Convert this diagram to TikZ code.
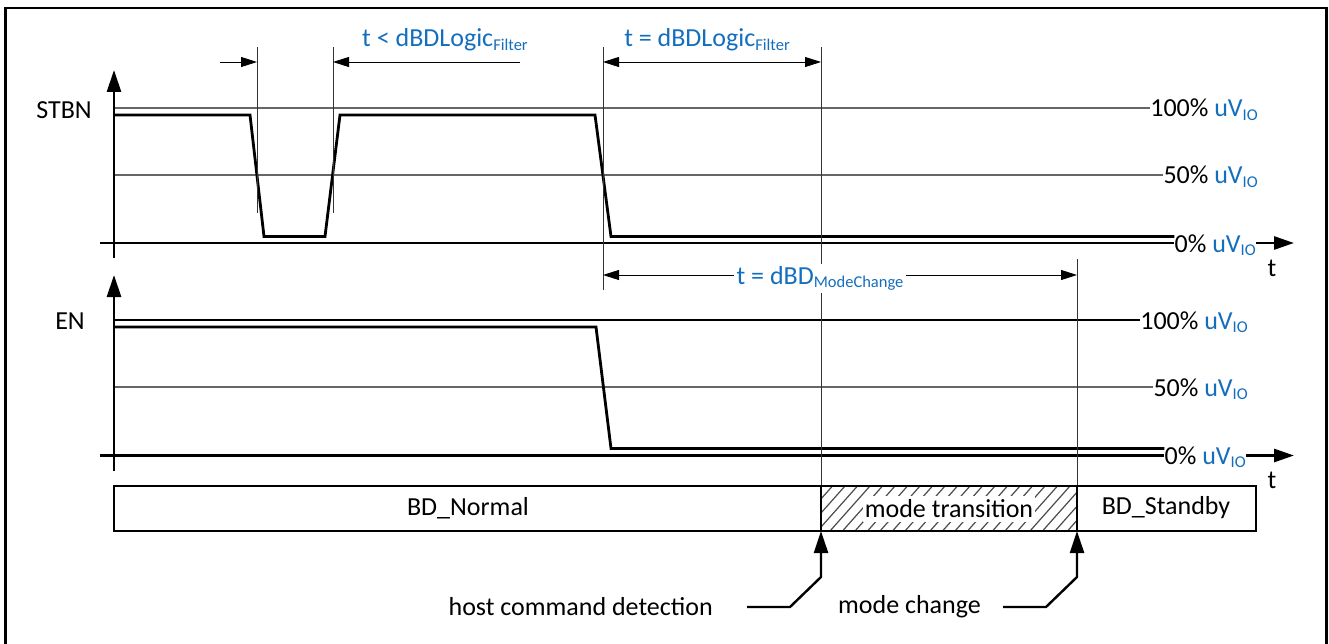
\documentclass[tikz,border=0pt]{standalone}
\usepackage{fontspec}
\setmainfont{Carlito}
\usetikzlibrary{arrows.meta}
\definecolor{ifxblue}{RGB}{20,110,190}
\newcommand\subt[1]{\raisebox{-0.3ex}{\fontsize{16.5}{18}\selectfont #1}}
\newcommand\uvio{\textcolor{ifxblue}{uV\subt{IO}}}
\begin{document}
\begin{tikzpicture}[x=1pt,y=-1pt,
  font=\fontsize{26}{30}\selectfont,
  sig/.style={line width=2.8pt, line join=miter},
  axisline/.style={line width=2.8pt},
  refline/.style={line width=1.2pt, draw=black!60},
  guide/.style={line width=0.9pt, draw=black!80},
  dimarrow/.style={line width=0.9pt, -{Triangle[length=16pt,width=10pt]}},
  dimboth/.style={line width=0.9pt, {Triangle[length=16pt,width=10pt]}-{Triangle[length=16pt,width=10pt]}},
  yarrow/.style={axisline, -{Triangle[length=22pt,width=14pt]}},
  tarrow/.style={axisline, -{Triangle[length=20pt,width=13pt]}},
  markarrow/.style={line width=2.4pt, -{Triangle[length=22pt,width=14pt]}},
  bluetext/.style={text=ifxblue, inner sep=1pt},
  lvl/.style={anchor=base east, inner sep=0pt},
  statebox/.style={draw, line width=2.2pt}]
\useasboundingbox (0,0) rectangle (1329,644);
% frame
\draw[line width=2.2pt] (5.5,660) -- (5.5,8) -- (1326.5,8) -- (1326.5,660);

% ---------------- STBN ----------------
\node (stbn) at (64,110) {STBN};
\coordinate (sA) at (114,108);
\coordinate (sB) at (114,175);
\coordinate (sC) at (100,243);
\node[lvl] (s100) at (1258,117) {100\% \uvio};
\node[lvl] (s50)  at (1258,184) {50\% \uvio};
\node[lvl] (s0)   at (1256,252) {0\% \uvio};
\draw[refline] (sA) -- (s100.west |- sA);
\draw[refline] (sB) -- (s50.west |- sB);
\draw[axisline] (sC) -- (s0.west |- sC);
\coordinate (sTend) at (1294,243);
\draw[tarrow] (s0.east |- sC) -- (sTend);
\node (st) at (1272,268) {t};
\coordinate (sYbot) at (114,258);
\coordinate (sYtop) at (114,70);
\draw[yarrow] (sYbot) -- (sYtop);
% waveform
\draw[sig] (114,115) -- (250,115) -- (264,236.5) -- (325,236.5) -- (340,115) -- (595,115) -- (611,236.5) -- (s0.west |- {(0,236.5)});

% ---------------- EN ----------------
\node (en) at (70,321) {EN};
\coordinate (eA) at (114,320);
\coordinate (eB) at (114,387);
\coordinate (eC) at (100,455.5);
\node[lvl] (e100) at (1248,329) {100\% \uvio};
\node[lvl] (e50)  at (1248,396) {50\% \uvio};
\node[lvl] (e0)   at (1246,464) {0\% \uvio};
\draw[line width=1.1pt] (eA) -- (e100.west |- eA);
\draw[refline] (eB) -- (e50.west |- eB);
\draw[axisline] (eC) -- (e0.west |- eC);
\coordinate (eTend) at (1294,455.5);
\draw[tarrow] (e0.east |- eC) -- (eTend);
\node (et) at (1272,480) {t};
\coordinate (eYbot) at (114,471);
\coordinate (eYtop) at (114,275);
\draw[yarrow] (eYbot) -- (eYtop);
\draw[sig] (114,327) -- (596,327) -- (611,448.5) -- (e0.west |- {(0,448.5)});

% ---------------- guide lines ----------------
\coordinate (g1t) at (257,47);  \coordinate (g1b) at (257,213);
\coordinate (g2t) at (333,47);  \coordinate (g2b) at (333,213);
\coordinate (g3t) at (603,47);  \coordinate (g3b) at (603,290);
\coordinate (g4t) at (821,47);  \coordinate (g4b) at (821,486);
\coordinate (g5t) at (1077,259); \coordinate (g5b) at (1077,486);
\draw[guide] (g1t) -- (g1b);
\draw[guide] (g2t) -- (g2b);
\draw[guide] (g3t) -- (g3b);
\draw[guide] (g4t) -- (g4b);
\draw[guide] (g5t) -- (g5b);

% ---------------- dimensions ----------------
\coordinate (d1s) at (220,62); \coordinate (d1e) at (257,62);
\coordinate (d2s) at (520,62); \coordinate (d2e) at (333,62);
\draw[dimarrow] (d1s) -- (d1e);
\draw[dimarrow] (d2s) -- (d2e);
\node[bluetext, anchor=base west] (lab1) at (361,47) {t < dBDLogic\subt{Filter}};

\coordinate (d3s) at (603,62); \coordinate (d3e) at (821,62);
\draw[dimboth] (d3s) -- (d3e);
\node[bluetext, anchor=base] (lab2) at (707,47) {t = dBDLogic\subt{Filter}};

\coordinate (d4s) at (603,275); \coordinate (d4e) at (1077,275);
\draw[dimboth] (d4s) -- (d4e);
\node[bluetext, fill=white, inner xsep=3pt, inner ysep=2pt, anchor=base] (lab3) at (820,284) {t = dBD\subt{ModeChange}};

% ---------------- state bar ----------------
\begin{scope}
  \clip (821,486) rectangle (1077,531);
  \foreach \i in {0,...,26} {
    \draw[line width=1.2pt, black!70] (780+\i*12.5,531) -- ++(40,-45);
  }
\end{scope}
\node[fill=white, inner xsep=2pt, inner ysep=4pt] (mt) at (949,509) {mode transition};
\draw[statebox] (114,486) rectangle (1256,531);
\draw[statebox] (821,486) -- (821,531);
\draw[statebox] (1077,486) -- (1077,531);
\node (bdn) at (468,508) {BD\_Normal};
\node (bds) at (1166,508) {BD\_Standby};

% ---------------- markers ----------------
\node[anchor=east, inner sep=0pt] (hcd) at (713,607) {host command detection};
\node[anchor=east, inner sep=0pt] (mch) at (981,607) {mode change};
\coordinate (m1a) at (747,607);
\coordinate (m1b) at (790,607);
\coordinate (m1c) at (821,577);
\coordinate (m1d) at (821,531);
\draw[markarrow] (m1a) -- (m1b) -- (m1c) -- (m1d);
\coordinate (m2a) at (1003,607);
\coordinate (m2b) at (1046,607);
\coordinate (m2c) at (1077,577);
\coordinate (m2d) at (1077,531);
\draw[markarrow] (m2a) -- (m2b) -- (m2c) -- (m2d);
\end{tikzpicture}
\end{document}
